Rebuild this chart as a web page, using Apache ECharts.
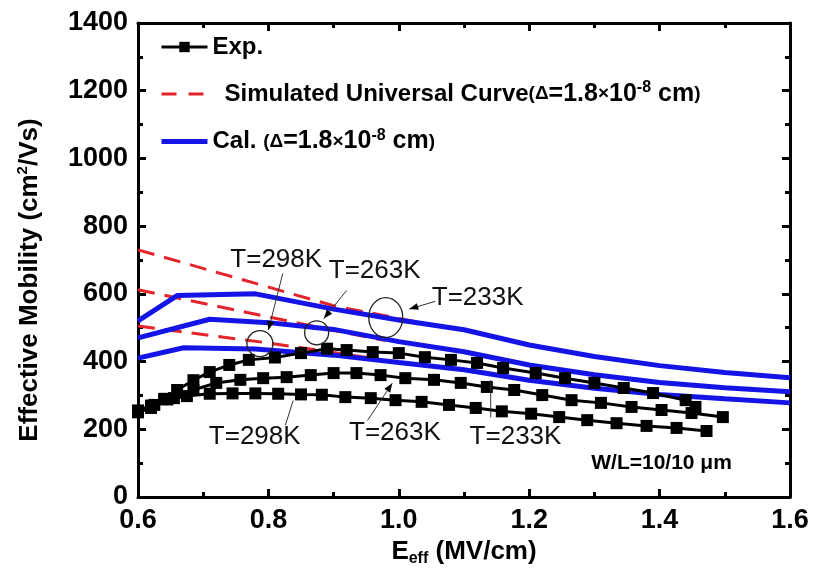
<!DOCTYPE html>
<html>
<head>
<meta charset="utf-8">
<script src="https://cdn.jsdelivr.net/npm/echarts@6/dist/echarts.min.js"></script>
<style>html,body{margin:0;padding:0;background:#fff}#c{width:816px;height:581px}</style>
</head>
<body>
<div id="c"></div>
<script>
// ---- Data ----
const xTicks = [0.6, 0.8, 1.0, 1.2, 1.4, 1.6];
const yTicks = [0, 200, 400, 600, 800, 1000, 1200, 1400];

const expE233 = [0.60,0.62,0.64,0.66,0.685,0.71,0.74,0.77,0.81,0.85,0.89,0.92,0.96,1.00,1.04,1.08,1.12,1.16,1.21,1.255,1.30,1.345,1.39,1.44,1.455];
const expMu233 = [255,270,290,316,345,369,390,405,412,425,438,434,428,425,413,405,396,381,366,351,337,322,307,286,266];

const expE263 = [0.60,0.62,0.655,0.685,0.72,0.757,0.792,0.828,0.865,0.90,0.935,0.972,1.01,1.054,1.095,1.135,1.177,1.22,1.265,1.31,1.357,1.403,1.449,1.497];
const expMu263 = [250,263,292,316,337,346,351,354,360,366,366,360,351,346,337,325,316,301,286,278,266,257,248,236];

const expE298 = [0.60,0.625,0.645,0.675,0.71,0.745,0.78,0.815,0.85,0.882,0.918,0.957,0.995,1.035,1.077,1.118,1.158,1.203,1.246,1.289,1.334,1.38,1.426,1.472];
const expMu298 = [255,272,288,298,305,306,306,305,303,302,295,292,286,281,272,263,253,246,236,227,218,210,204,195];

const calE233 = [0.6,0.66,0.78,0.9,1.0,1.1,1.2,1.3,1.4,1.5,1.6];
const calMu233 = [520,595,600,555,523,494,449,415,388,368,352];
const calE263 = [0.6,0.71,0.8,0.9,1.0,1.1,1.2,1.3,1.4,1.5,1.6];
const calMu263 = [470,525,515,495,459,429,390,361,338,323,311];
const calE298 = [0.6,0.67,0.78,0.9,1.0,1.1,1.2,1.3,1.4,1.5,1.6];
const calMu298 = [410,441,437,419,397,376,345,321,303,290,278];

const simE233 = [0.6,0.9,1.06];
const simMu233 = [730,565,505];
const simE263 = [0.6,0.9,0.98];
const simMu263 = [612,492,462];
const simE298 = [0.6,0.8,0.9,0.96];
const simMu298 = [505,455,427,410];

// annotation texts and anchor points (data coordinates)
const labelTexts = ['T=298K','T=263K','T=233K','T=298K','T=263K','T=233K'];
const labelPos = [[0.812,700],[0.963,668],[1.121,588],[0.779,177],[0.994,189],[1.179,177]];
const circles = [[0.787,453,13,13],[0.874,485,12,12],[0.98,530,17,20]];
const leaders = [
  [[0.822,660],[0.8,493],true],
  [[0.92,610],[0.885,527],true],
  [[1.056,578],[1.016,555],true],
  [[0.826,212],[0.838,285],false],
  [[0.952,226],[0.99,336],true],
  [[1.141,235],[1.141,345],false]
];
const noteText = 'W/L=10/10 \u03bcm';
const notePos = [1.403, 100];
const yTitle = ['Effective Mobility (cm', '2', '/Vs)'];
const xTitle = ['E', 'eff', ' (MV/cm)'];

const zip = (a, b) => a.map((v, i) => [v, b[i]]);

const chart = echarts.init(document.getElementById('c'));
const AX = '#000';
const font = 'Arial, "Liberation Sans", sans-serif';
const RED = '#e3242b', BLUE = '#1414e6';

function xAx(pos, showLabel) {
  return {
    type: 'value', position: pos, min: 0.6, max: 1.6, interval: 0.2,
    axisLine: {show: true, onZero: false, lineStyle: {color: AX, width: 3}},
    axisTick: {show: true, inside: true, length: 8, lineStyle: {color: AX, width: 3}},
    minorTick: {show: true, splitNumber: 2, length: 5, lineStyle: {color: AX, width: 3}},
    splitLine: {show: false},
    axisLabel: {show: showLabel, margin: 10, color: '#000', fontFamily: font, fontWeight: 'bold', fontSize: 27,
      formatter: v => v.toFixed(1)}
  };
}
function yAx(pos, showLabel) {
  return {
    type: 'value', position: pos, min: 0, max: 1400, interval: 200,
    axisLine: {show: true, onZero: false, lineStyle: {color: AX, width: 3}},
    axisTick: {show: true, inside: true, length: 8, lineStyle: {color: AX, width: 3}},
    minorTick: {show: true, splitNumber: 2, length: 5, lineStyle: {color: AX, width: 3}},
    splitLine: {show: false},
    axisLabel: {show: showLabel, margin: 10, color: '#000', fontFamily: font, fontWeight: 'bold', fontSize: 27,
      formatter: v => String(v)}
  };
}

const xMain = xAx('bottom', true);
xMain.name = '{t|' + xTitle[0] + '}{sub|' + xTitle[1] + '}{t|' + xTitle[2] + '}';
xMain.nameLocation = 'middle';
xMain.nameGap = 38;
xMain.nameTextStyle = {rich: {
  t: {fontFamily: font, fontWeight: 'bold', fontSize: 26, color: '#000', lineHeight: 30},
  sub: {fontFamily: font, fontWeight: 'bold', fontSize: 16, color: '#000', verticalAlign: 'bottom', lineHeight: 24}
}};
const yMain = yAx('left', true);

const expSeries = [[expE233, expMu233],[expE263, expMu263],[expE298, expMu298]].map(([e, m]) => ({
  name: 'Exp.', type: 'line', data: zip(e, m), symbol: 'rect', symbolSize: 12,
  lineStyle: {color: '#000', width: 3}, itemStyle: {color: '#000'}, z: 5, animation: false
}));
const simSeries = [[simE233, simMu233],[simE263, simMu263],[simE298, simMu298]].map(([e, m]) => ({
  name: 'Sim', type: 'line', data: zip(e, m), symbol: 'none',
  lineStyle: {color: RED, width: 3, type: [17, 10]}, itemStyle: {color: RED}, z: 2, animation: false
}));
const calSeries = [[calE233, calMu233],[calE263, calMu263],[calE298, calMu298]].map(([e, m]) => ({
  name: 'Cal', type: 'line', data: zip(e, m), symbol: 'none',
  lineStyle: {color: BLUE, width: 5}, itemStyle: {color: BLUE}, z: 3, animation: false
}));

const legendRich = {
  b: {fontFamily: font, fontWeight: 'bold', fontSize: 24, color: '#000', lineHeight: 28},
  n: {fontFamily: font, fontWeight: 'bold', fontSize: 25, color: '#000', lineHeight: 28},
  s: {fontFamily: font, fontWeight: 'bold', fontSize: 19, color: '#000', lineHeight: 28},
  sup: {fontFamily: font, fontWeight: 'bold', fontSize: 16, color: '#000', verticalAlign: 'top', lineHeight: 28},
  p: {width: 12}
};
const parenPart = '{s|(\u0394}{n|=1.8}{s|\u00d7}{n|10}{sup|-8}{n| cm}{s|)}';

chart.setOption({
  animation: false,
  backgroundColor: '#fff',
  grid: {left: 138, right: 26, top: 23, bottom: 84, containLabel: false},
  xAxis: [xMain, xAx('top', false)],
  yAxis: [yMain, yAx('right', false)],
  legend: {
    orient: 'vertical', left: 154, top: 30, itemWidth: 46, itemHeight: 13, itemGap: 21,
    data: [
      {name: 'Exp.', lineStyle: {width: 3}},
      {name: 'Sim', itemStyle: {opacity: 0}, lineStyle: {width: 3, type: [15, 12], color: RED}},
      {name: 'Cal', itemStyle: {opacity: 0}, lineStyle: {width: 5, color: BLUE}}
    ],
    formatter: n => n === 'Exp.' ? '{b|Exp.}'
      : n === 'Sim' ? '{p|}{b|Simulated Universal Curve}' + parenPart
      : '{b|Cal. }' + parenPart,
    textStyle: {rich: legendRich},
    selectedMode: false
  },
  series: [...simSeries, ...calSeries, ...expSeries]
});

function px(p) { return chart.convertToPixel({gridIndex: 0}, p); }
function buildGraphics() {
  const els = [];
  labelTexts.forEach((t, i) => {
    const p = px(labelPos[i]);
    els.push({type: 'text', x: p[0], y: p[1], z: 10,
      style: {text: t, fontFamily: font, fontSize: 26, fill: '#111', align: 'center', verticalAlign: 'middle'}});
  });
  const np = px(notePos);
  els.push({type: 'text', x: np[0], y: np[1], z: 10,
    style: {text: noteText, fontFamily: font, fontWeight: 'bold', fontSize: 21, fill: '#000', align: 'center', verticalAlign: 'middle'}});
  circles.forEach(c => {
    const p = px([c[0], c[1]]);
    els.push({type: 'ellipse', z: 10, shape: {cx: p[0], cy: p[1], rx: c[2], ry: c[3]},
      style: {fill: 'none', stroke: '#222', lineWidth: 1.3}});
  });
  leaders.forEach(l => {
    const a = px(l[0]), b = px(l[1]);
    els.push({type: 'line', z: 10, shape: {x1: a[0], y1: a[1], x2: b[0], y2: b[1]},
      style: {stroke: '#333', lineWidth: 1}});
    if (l[2]) {
      const dx = b[0] - a[0], dy = b[1] - a[1], L = Math.hypot(dx, dy);
      const ux = dx / L, uy = dy / L, s = 9, w = 3.5;
      els.push({type: 'polygon', z: 10, shape: {points: [
        [b[0], b[1]],
        [b[0] - ux * s - uy * w, b[1] - uy * s + ux * w],
        [b[0] - ux * s + uy * w, b[1] - uy * s - ux * w]
      ]}, style: {fill: '#000'}});
    }
  });
  // rotated y-axis title
  els.push({type: 'text', x: 30, y: 280, rotation: Math.PI / 2, z: 10,
    style: {
      text: '{t|' + yTitle[0] + '}{sup|' + yTitle[1] + '}{t|' + yTitle[2] + '}',
      align: 'center', verticalAlign: 'middle',
      rich: {
        t: {fontFamily: font, fontWeight: 'bold', fontSize: 26, fill: '#000', lineHeight: 30},
        sup: {fontFamily: font, fontWeight: 'bold', fontSize: 15, fill: '#000', verticalAlign: 'top', lineHeight: 30}
      }
    }});
  chart.setOption({graphic: els});
}
buildGraphics();
</script>
</body>
</html>
